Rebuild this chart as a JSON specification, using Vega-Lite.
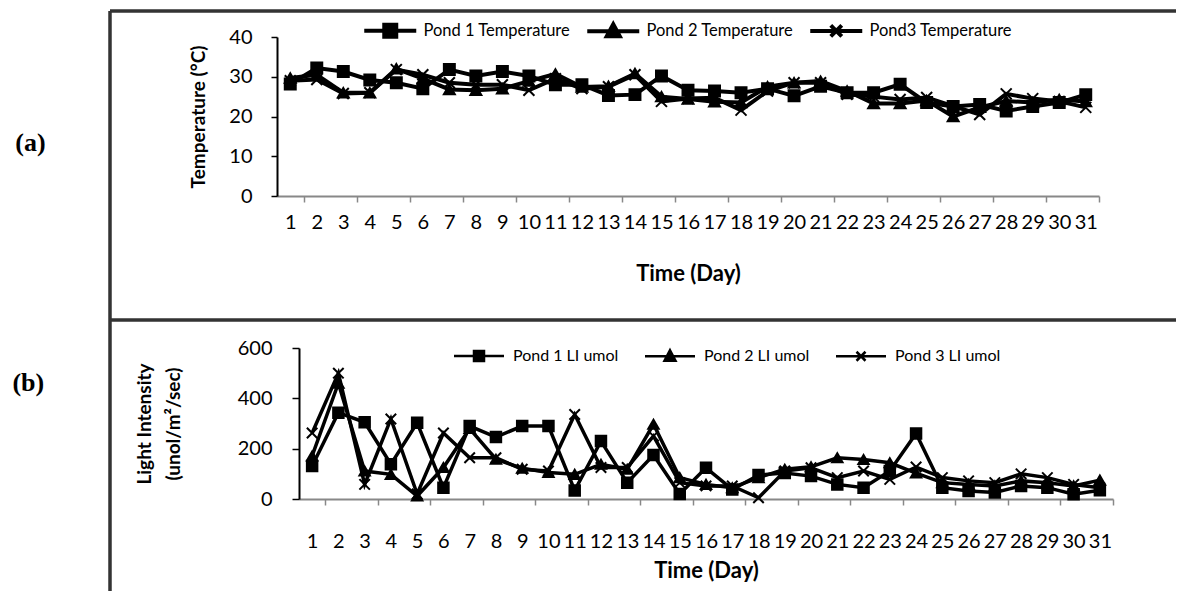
{
 "$schema": "https://vega.github.io/schema/vega-lite/v6.json",
 "padding": {"left": 10, "top": 9, "right": 0, "bottom": 0},
 "background": "white",
 "spacing": 0,
 "bounds": "flush",
 "resolve": {"scale": {"x": "independent", "y": "independent", "color": "independent", "shape": "independent"}, "legend": {"color": "independent"}},
 "config": {
  "font": "Lato",
  "axis": {"grid": false, "labelFont": "Lato", "titleFont": "Lato", "labelColor": "#000", "titleColor": "#000"},
  "legend": {"labelFont": "Lato", "labelColor": "#000"}
 },
 "datasets": {
  "temp": [
   {"day":1,"series":"Pond 1 Temperature","value":28.2},{"day":2,"series":"Pond 1 Temperature","value":32.2},{"day":3,"series":"Pond 1 Temperature","value":31.3},{"day":4,"series":"Pond 1 Temperature","value":29.2},{"day":5,"series":"Pond 1 Temperature","value":28.5},{"day":6,"series":"Pond 1 Temperature","value":27.0},{"day":7,"series":"Pond 1 Temperature","value":31.8},{"day":8,"series":"Pond 1 Temperature","value":30.2},{"day":9,"series":"Pond 1 Temperature","value":31.3},{"day":10,"series":"Pond 1 Temperature","value":30.2},{"day":11,"series":"Pond 1 Temperature","value":28.0},{"day":12,"series":"Pond 1 Temperature","value":28.0},{"day":13,"series":"Pond 1 Temperature","value":25.3},{"day":14,"series":"Pond 1 Temperature","value":25.5},{"day":15,"series":"Pond 1 Temperature","value":30.2},{"day":16,"series":"Pond 1 Temperature","value":26.6},{"day":17,"series":"Pond 1 Temperature","value":26.4},{"day":18,"series":"Pond 1 Temperature","value":26.0},{"day":19,"series":"Pond 1 Temperature","value":27.0},{"day":20,"series":"Pond 1 Temperature","value":25.2},{"day":21,"series":"Pond 1 Temperature","value":27.6},{"day":22,"series":"Pond 1 Temperature","value":26.0},{"day":23,"series":"Pond 1 Temperature","value":26.0},{"day":24,"series":"Pond 1 Temperature","value":28.1},{"day":25,"series":"Pond 1 Temperature","value":23.5},{"day":26,"series":"Pond 1 Temperature","value":22.5},{"day":27,"series":"Pond 1 Temperature","value":23.0},{"day":28,"series":"Pond 1 Temperature","value":21.4},{"day":29,"series":"Pond 1 Temperature","value":22.5},{"day":30,"series":"Pond 1 Temperature","value":23.5},{"day":31,"series":"Pond 1 Temperature","value":25.5},
   {"day":1,"series":"Pond 2 Temperature","value":29.7},{"day":2,"series":"Pond 2 Temperature","value":30.5},{"day":3,"series":"Pond 2 Temperature","value":26.0},{"day":4,"series":"Pond 2 Temperature","value":26.0},{"day":5,"series":"Pond 2 Temperature","value":32.0},{"day":6,"series":"Pond 2 Temperature","value":29.5},{"day":7,"series":"Pond 2 Temperature","value":26.8},{"day":8,"series":"Pond 2 Temperature","value":26.6},{"day":9,"series":"Pond 2 Temperature","value":27.0},{"day":10,"series":"Pond 2 Temperature","value":28.9},{"day":11,"series":"Pond 2 Temperature","value":30.7},{"day":12,"series":"Pond 2 Temperature","value":27.4},{"day":13,"series":"Pond 2 Temperature","value":27.6},{"day":14,"series":"Pond 2 Temperature","value":30.8},{"day":15,"series":"Pond 2 Temperature","value":25.0},{"day":16,"series":"Pond 2 Temperature","value":24.4},{"day":17,"series":"Pond 2 Temperature","value":23.7},{"day":18,"series":"Pond 2 Temperature","value":23.5},{"day":19,"series":"Pond 2 Temperature","value":27.5},{"day":20,"series":"Pond 2 Temperature","value":28.5},{"day":21,"series":"Pond 2 Temperature","value":28.9},{"day":22,"series":"Pond 2 Temperature","value":26.4},{"day":23,"series":"Pond 2 Temperature","value":23.3},{"day":24,"series":"Pond 2 Temperature","value":23.3},{"day":25,"series":"Pond 2 Temperature","value":24.0},{"day":26,"series":"Pond 2 Temperature","value":20.0},{"day":27,"series":"Pond 2 Temperature","value":22.3},{"day":28,"series":"Pond 2 Temperature","value":23.9},{"day":29,"series":"Pond 2 Temperature","value":23.5},{"day":30,"series":"Pond 2 Temperature","value":24.3},{"day":31,"series":"Pond 2 Temperature","value":23.8},
   {"day":1,"series":"Pond3 Temperature","value":29.0},{"day":2,"series":"Pond3 Temperature","value":29.3},{"day":3,"series":"Pond3 Temperature","value":25.8},{"day":4,"series":"Pond3 Temperature","value":26.0},{"day":5,"series":"Pond3 Temperature","value":31.8},{"day":6,"series":"Pond3 Temperature","value":30.5},{"day":7,"series":"Pond3 Temperature","value":28.5},{"day":8,"series":"Pond3 Temperature","value":28.0},{"day":9,"series":"Pond3 Temperature","value":28.0},{"day":10,"series":"Pond3 Temperature","value":26.6},{"day":11,"series":"Pond3 Temperature","value":29.5},{"day":12,"series":"Pond3 Temperature","value":27.0},{"day":13,"series":"Pond3 Temperature","value":27.5},{"day":14,"series":"Pond3 Temperature","value":30.5},{"day":15,"series":"Pond3 Temperature","value":23.8},{"day":16,"series":"Pond3 Temperature","value":24.5},{"day":17,"series":"Pond3 Temperature","value":24.7},{"day":18,"series":"Pond3 Temperature","value":21.6},{"day":19,"series":"Pond3 Temperature","value":26.4},{"day":20,"series":"Pond3 Temperature","value":28.5},{"day":21,"series":"Pond3 Temperature","value":28.5},{"day":22,"series":"Pond3 Temperature","value":25.6},{"day":23,"series":"Pond3 Temperature","value":25.0},{"day":24,"series":"Pond3 Temperature","value":24.3},{"day":25,"series":"Pond3 Temperature","value":24.8},{"day":26,"series":"Pond3 Temperature","value":22.6},{"day":27,"series":"Pond3 Temperature","value":20.5},{"day":28,"series":"Pond3 Temperature","value":25.7},{"day":29,"series":"Pond3 Temperature","value":24.5},{"day":30,"series":"Pond3 Temperature","value":23.8},{"day":31,"series":"Pond3 Temperature","value":22.3}
  ],
  "light": [
   {"day":1,"series":"Pond 1 LI umol","value":131},{"day":2,"series":"Pond 1 LI umol","value":343},{"day":3,"series":"Pond 1 LI umol","value":305},{"day":4,"series":"Pond 1 LI umol","value":138},{"day":5,"series":"Pond 1 LI umol","value":303},{"day":6,"series":"Pond 1 LI umol","value":45},{"day":7,"series":"Pond 1 LI umol","value":290},{"day":8,"series":"Pond 1 LI umol","value":246},{"day":9,"series":"Pond 1 LI umol","value":290},{"day":10,"series":"Pond 1 LI umol","value":290},{"day":11,"series":"Pond 1 LI umol","value":34},{"day":12,"series":"Pond 1 LI umol","value":230},{"day":13,"series":"Pond 1 LI umol","value":65},{"day":14,"series":"Pond 1 LI umol","value":175},{"day":15,"series":"Pond 1 LI umol","value":20},{"day":16,"series":"Pond 1 LI umol","value":124},{"day":17,"series":"Pond 1 LI umol","value":38},{"day":18,"series":"Pond 1 LI umol","value":95},{"day":19,"series":"Pond 1 LI umol","value":103},{"day":20,"series":"Pond 1 LI umol","value":91},{"day":21,"series":"Pond 1 LI umol","value":58},{"day":22,"series":"Pond 1 LI umol","value":45},{"day":23,"series":"Pond 1 LI umol","value":111},{"day":24,"series":"Pond 1 LI umol","value":260},{"day":25,"series":"Pond 1 LI umol","value":45},{"day":26,"series":"Pond 1 LI umol","value":32},{"day":27,"series":"Pond 1 LI umol","value":26},{"day":28,"series":"Pond 1 LI umol","value":52},{"day":29,"series":"Pond 1 LI umol","value":45},{"day":30,"series":"Pond 1 LI umol","value":19},{"day":31,"series":"Pond 1 LI umol","value":35},
   {"day":1,"series":"Pond 2 LI umol","value":171},{"day":2,"series":"Pond 2 LI umol","value":460},{"day":3,"series":"Pond 2 LI umol","value":111},{"day":4,"series":"Pond 2 LI umol","value":98},{"day":5,"series":"Pond 2 LI umol","value":12},{"day":6,"series":"Pond 2 LI umol","value":125},{"day":7,"series":"Pond 2 LI umol","value":280},{"day":8,"series":"Pond 2 LI umol","value":158},{"day":9,"series":"Pond 2 LI umol","value":122},{"day":10,"series":"Pond 2 LI umol","value":105},{"day":11,"series":"Pond 2 LI umol","value":98},{"day":12,"series":"Pond 2 LI umol","value":138},{"day":13,"series":"Pond 2 LI umol","value":118},{"day":14,"series":"Pond 2 LI umol","value":297},{"day":15,"series":"Pond 2 LI umol","value":85},{"day":16,"series":"Pond 2 LI umol","value":58},{"day":17,"series":"Pond 2 LI umol","value":45},{"day":18,"series":"Pond 2 LI umol","value":85},{"day":19,"series":"Pond 2 LI umol","value":118},{"day":20,"series":"Pond 2 LI umol","value":128},{"day":21,"series":"Pond 2 LI umol","value":164},{"day":22,"series":"Pond 2 LI umol","value":157},{"day":23,"series":"Pond 2 LI umol","value":144},{"day":24,"series":"Pond 2 LI umol","value":103},{"day":25,"series":"Pond 2 LI umol","value":65},{"day":26,"series":"Pond 2 LI umol","value":58},{"day":27,"series":"Pond 2 LI umol","value":52},{"day":28,"series":"Pond 2 LI umol","value":72},{"day":29,"series":"Pond 2 LI umol","value":65},{"day":30,"series":"Pond 2 LI umol","value":52},{"day":31,"series":"Pond 2 LI umol","value":75},
   {"day":1,"series":"Pond 3 LI umol","value":262},{"day":2,"series":"Pond 3 LI umol","value":500},{"day":3,"series":"Pond 3 LI umol","value":58},{"day":4,"series":"Pond 3 LI umol","value":318},{"day":5,"series":"Pond 3 LI umol","value":20},{"day":6,"series":"Pond 3 LI umol","value":262},{"day":7,"series":"Pond 3 LI umol","value":164},{"day":8,"series":"Pond 3 LI umol","value":164},{"day":9,"series":"Pond 3 LI umol","value":118},{"day":10,"series":"Pond 3 LI umol","value":111},{"day":11,"series":"Pond 3 LI umol","value":336},{"day":12,"series":"Pond 3 LI umol","value":125},{"day":13,"series":"Pond 3 LI umol","value":125},{"day":14,"series":"Pond 3 LI umol","value":250},{"day":15,"series":"Pond 3 LI umol","value":65},{"day":16,"series":"Pond 3 LI umol","value":52},{"day":17,"series":"Pond 3 LI umol","value":52},{"day":18,"series":"Pond 3 LI umol","value":5},{"day":19,"series":"Pond 3 LI umol","value":111},{"day":20,"series":"Pond 3 LI umol","value":124},{"day":21,"series":"Pond 3 LI umol","value":85},{"day":22,"series":"Pond 3 LI umol","value":111},{"day":23,"series":"Pond 3 LI umol","value":78},{"day":24,"series":"Pond 3 LI umol","value":127},{"day":25,"series":"Pond 3 LI umol","value":85},{"day":26,"series":"Pond 3 LI umol","value":72},{"day":27,"series":"Pond 3 LI umol","value":65},{"day":28,"series":"Pond 3 LI umol","value":100},{"day":29,"series":"Pond 3 LI umol","value":85},{"day":30,"series":"Pond 3 LI umol","value":58},{"day":31,"series":"Pond 3 LI umol","value":45}
  ]
 },
 "vconcat": [
  {
   "width": 1066, "height": 309,
   "title": {"text": "(a)", "orient": "left", "frame": "group", "angle": 0, "align": "right", "baseline": "middle", "anchor": "middle", "offset": 34, "dy": -23, "font": "Liberation Serif", "fontSize": 26, "fontWeight": "bold", "color": "#000"},
   "view": {"stroke": "#333", "strokeWidth": 3.5, "strokeDash": [1066, 1375, 309, 0]},
   "data": {"name": "temp"},
   "encoding": {
    "x": {"field": "day", "type": "ordinal", "bandPosition": 0.5,
     "scale": {"type": "band", "paddingInner": 0, "paddingOuter": 0, "range": [167, 989]},
     "axis": {"title": "Time (Day)", "orient": "bottom", "offset": -124, "labelAngle": 0, "labelFontSize": 20, "labelPadding": 10, "labelOverlap": false, "labelFlush": false, "tickBand": "extent", "tickSize": 6, "tickColor": "#888", "tickWidth": 1.5, "tickOpacity": {"condition": {"test": "datum.value % 2 === 1", "value": 1}, "value": 0}, "domainColor": "#888", "domainWidth": 2, "titleFontSize": 22, "titleFontWeight": "bold", "titlePadding": 31}},
    "y": {"field": "value", "type": "quantitative",
     "scale": {"domain": [0, 40], "range": [185, 26], "nice": false},
     "axis": {"title": "Temperature (°C)", "orient": "left", "offset": -167, "values": [0, 10, 20, 30, 40], "tickSize": 6, "tickColor": "#000", "tickWidth": 1.5, "domainColor": "#000", "domainWidth": 2, "labelFontSize": 20, "labelPadding": 19, "titleFontSize": 19, "titleFontWeight": "bold", "titlePadding": 20}}
   },
   "layer": [
    {"mark": {"type": "line", "strokeWidth": 4},
     "encoding": {"color": {"field": "series", "type": "nominal", "scale": {"range": ["#000", "#000", "#000"]},
      "legend": {"title": null, "orient": "none", "legendX": 272, "legendY": 11, "direction": "horizontal", "symbolSize": 100, "labelOffset": 25, "columnPadding": 8, "labelFontSize": 16.5, "padding": 0,
       "encode": {"symbols": {"update": {
        "shape": {"signal": "indexof(datum.value,'Pond 1')>=0 ? 'M-5.2,0H5.2M-1.2,-1.2H1.2V1.2H-1.2Z' : indexof(datum.value,'Pond 2')>=0 ? 'M-5.2,0H5.2M0,-1.4L1.3,1H-1.3Z' : 'M-5.2,0H5.2M-1.1,-1.1L1.1,1.1M-1.1,1.1L1.1,-1.1'"},
        "fill": {"value": "#000"}, "stroke": {"value": "#000"}, "strokeWidth": {"value": 4}, "opacity": {"value": 1}}}}}}}},
    {"mark": {"type": "point", "filled": true, "fill": "#000", "stroke": "#000", "strokeWidth": 2, "size": 120, "opacity": 1},
     "encoding": {"shape": {"field": "series", "type": "nominal", "scale": {"range": ["square", "triangle-up", "M-1,-1L1,1M-1,1L1,-1"]}, "legend": null}}}
   ]
  },
  {
   "width": 1066, "height": 271,
   "title": {"text": "(b)", "orient": "left", "frame": "group", "angle": 0, "align": "right", "baseline": "middle", "anchor": "middle", "offset": 34, "dy": -73, "font": "Liberation Serif", "fontSize": 26, "fontWeight": "bold", "color": "#000"},
   "view": {"stroke": "#333", "strokeWidth": 3.5, "strokeDash": [1066, 1337, 271, 0]},
   "data": {"name": "light"},
   "encoding": {
    "x": {"field": "day", "type": "ordinal", "bandPosition": 0.5,
     "scale": {"type": "band", "paddingInner": 0, "paddingOuter": 0, "range": [189, 1003]},
     "axis": {"title": "Time (Day)", "orient": "bottom", "offset": -92, "labelAngle": 0, "labelFontSize": 20, "labelPadding": 26, "labelOverlap": false, "labelFlush": false, "tickBand": "extent", "tickSize": 6, "tickColor": "#888", "tickWidth": 1.5, "tickOpacity": {"condition": {"test": "datum.value % 2 === 1", "value": 1}, "value": 0}, "domainColor": "#888", "domainWidth": 2, "titleFontSize": 22, "titleFontWeight": "bold", "titlePadding": 9}},
    "y": {"field": "value", "type": "quantitative",
     "scale": {"domain": [0, 600], "range": [179, 28], "nice": false},
     "axis": {"title": ["Light Intensity", "(unol/m²/sec)"], "orient": "left", "offset": -189, "values": [0, 200, 400, 600], "tickSize": 7, "tickColor": "#000", "tickWidth": 1.5, "domainColor": "#000", "domainWidth": 2, "labelFontSize": 20, "labelPadding": 20, "titleFontSize": 19, "titleFontWeight": "bold", "titleLineHeight": 29, "titlePadding": 54}}
   },
   "layer": [
    {"mark": {"type": "line", "strokeWidth": 3.5},
     "encoding": {"color": {"field": "series", "type": "nominal", "scale": {"range": ["#000", "#000", "#000"]},
      "legend": {"title": null, "orient": "none", "legendX": 361, "legendY": 28, "direction": "horizontal", "symbolSize": 100, "labelOffset": 26, "columnPadding": 21, "labelFontSize": 16, "padding": 0,
       "encode": {"symbols": {"update": {
        "shape": {"signal": "indexof(datum.value,'Pond 1')>=0 ? 'M-5,0H5M-1,-1H1V1H-1Z' : indexof(datum.value,'Pond 2')>=0 ? 'M-5,0H5M0,-1.2L1.1,0.9H-1.1Z' : 'M-5,0H5M-0.9,-0.9L0.9,0.9M-0.9,0.9L0.9,-0.9'"},
        "fill": {"value": "#000"}, "stroke": {"value": "#000"}, "strokeWidth": {"value": 2.5}, "opacity": {"value": 1}}}}}}}},
    {"mark": {"type": "point", "filled": true, "fill": "#000", "stroke": "#000", "strokeWidth": 2, "size": 110, "opacity": 1},
     "encoding": {"shape": {"field": "series", "type": "nominal", "scale": {"range": ["square", "triangle-up", "M-1,-1L1,1M-1,1L1,-1"]}, "legend": null}}}
   ]
  }
 ]
}
